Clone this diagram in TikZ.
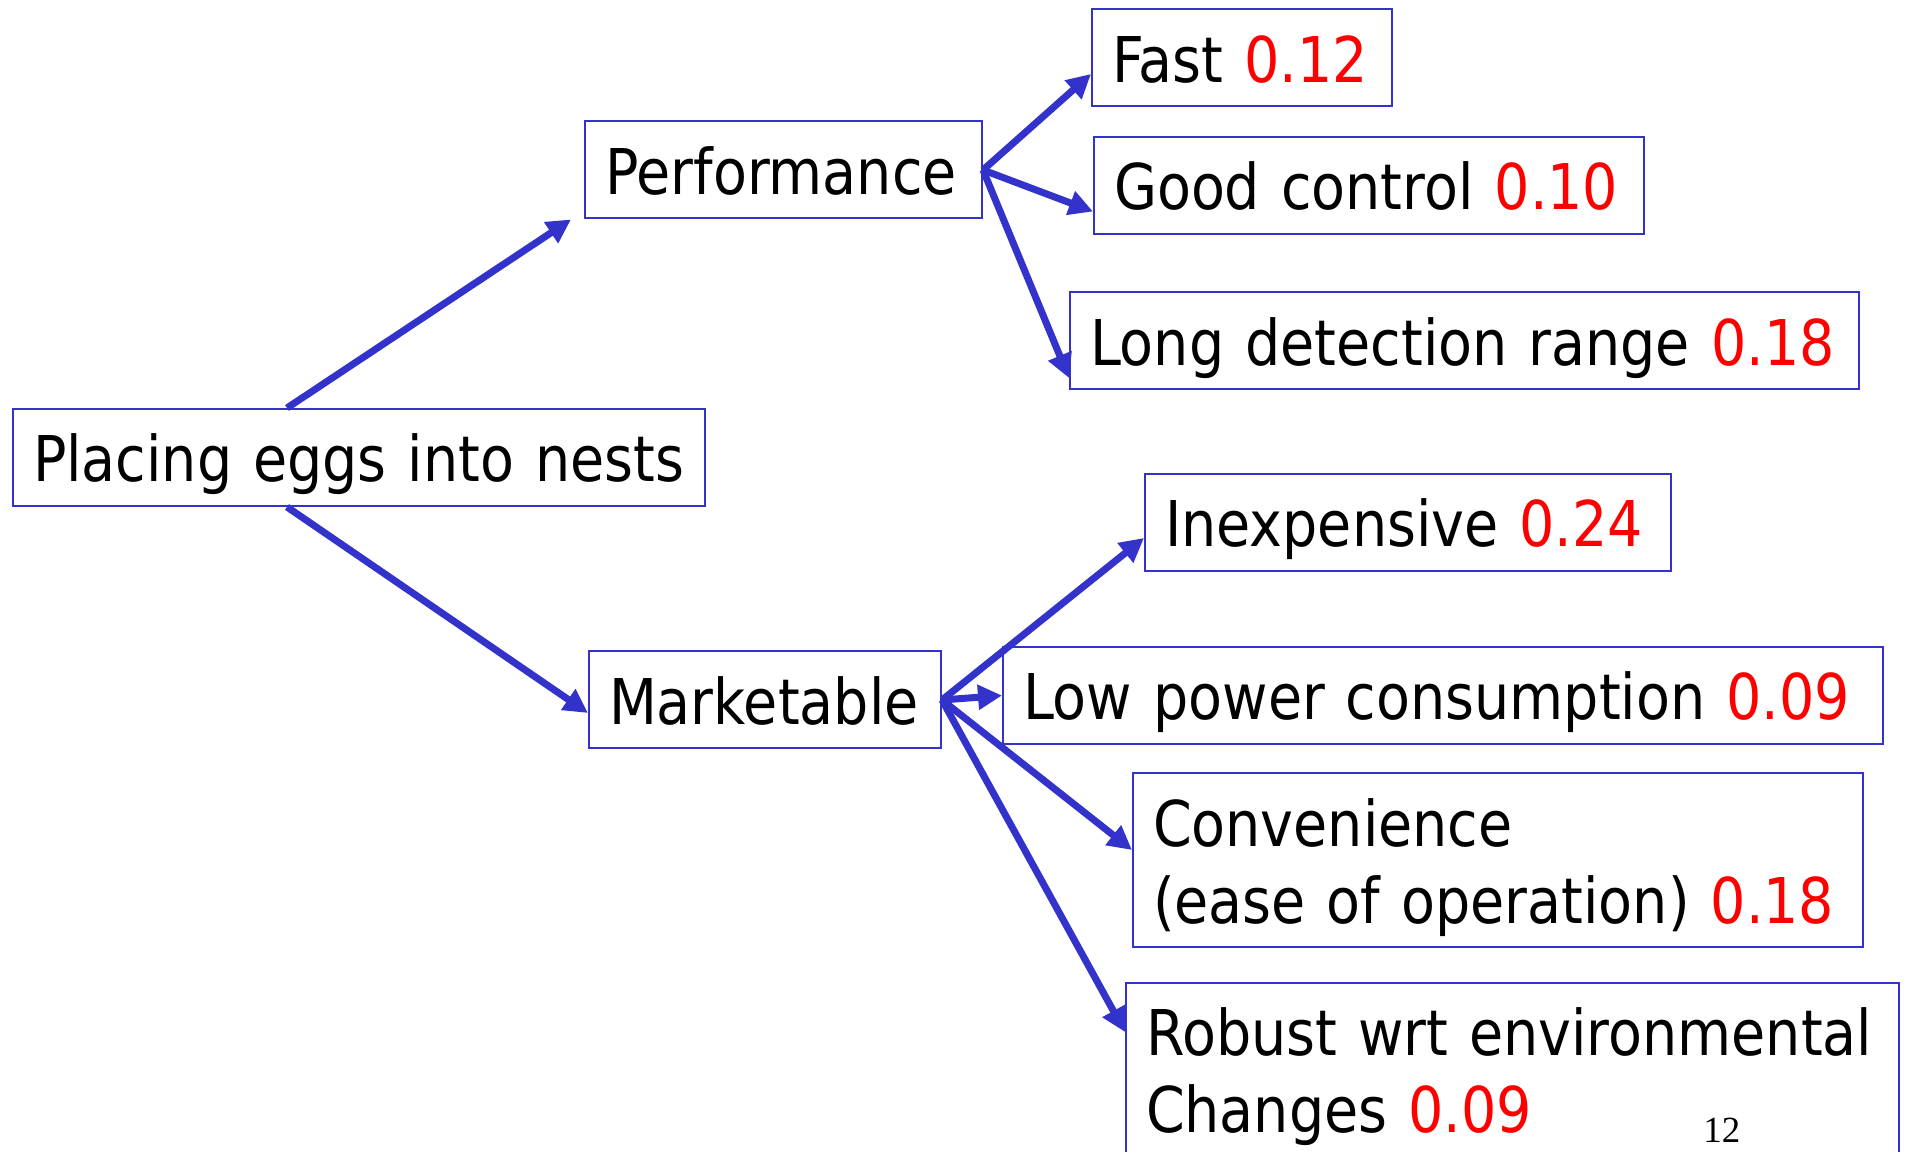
\documentclass[tikz,border=0pt]{standalone}
\usepackage{xcolor}
\usepackage{fontspec}
\setmainfont[FakeStretch=0.88]{DejaVu Sans}
\newfontfamily\slidenumfont{Liberation Serif}
\usepackage{tikz}
\usetikzlibrary{arrows.meta}

\definecolor{boxblue}{RGB}{51,51,204}
\newcommand{\score}[1]{\textcolor{red}{#1}}

\tikzset{
  crit/.style={draw=boxblue, line width=0.04cm, inner xsep=0.4cm, inner ysep=0pt,
    text height=1.46cm, text depth=0.48cm, align=left,
    font=\fontsize{35.9}{43.8}\selectfont},
  twolines/.style={text depth=2.02cm},
  branch/.style={draw=boxblue, line width=0.14cm, -{Triangle[length=0.48cm, width=0.48cm]}},
}

\begin{document}
\begin{tikzpicture}
    \useasboundingbox (0,0) rectangle (38.1,23.04);
    \clip (0,0) rectangle (38.1,23.04);

    \node[crit, text width=13.04cm] (goal) at (7.18, 13.89) {Placing eggs into nests};
    \node[crit, text width=7.14cm] (perf) at (15.67, 19.64) {Performance};
    \node[crit, text width=6.24cm] (mkt) at (15.3, 9.04) {Marketable};

    % performance criteria
    \node[crit, text width=5.2cm] (fast) at (24.84, 21.88) {Fast \score{0.12}};
    \node[crit, text width=10.2cm] (good) at (27.38, 19.33) {Good control \score{0.10}};
    \node[crit, text width=14.98cm] (range) at (29.29, 16.22) {Long detection range \score{0.18}};

    % marketability criteria
    \node[crit, text width=9.72cm] (cheap) at (28.16, 12.59) {Inexpensive \score{0.24}};
    \node[crit, text width=16.8cm] (power) at (28.86, 9.13) {Low power consumption \score{0.09}};
    \node[crit, twolines, text width=13.8cm] (ease) at (29.96, 5.83) {Convenience\\(ease of operation) \score{0.18}};
    \node[crit, twolines, text width=14.66cm] (robust) at (30.25, 1.64) {Robust wrt environmental\\Changes \score{0.09}};

    \node[anchor=base west, inner sep=0pt, font=\slidenumfont\fontsize{21}{25}\selectfont] (slidenum) at (34.06, 0.18) {12};

    \draw[branch] ([xshift=-1.44cm]goal.north) -- ([xshift=-0.26cm]perf.south west);
    \draw[branch] ([xshift=-1.44cm]goal.south) -- ([yshift=-0.26cm]mkt.west);

    \draw[branch] (perf.east) -- ([yshift=-0.32cm]fast.west);
    \draw[branch] (perf.east) -- ([yshift=-0.52cm]good.west);
    \draw[branch] (perf.east) -- ([yshift=-0.74cm]range.west);

    \draw[branch] (mkt.east) -- ([yshift=-0.31cm]cheap.west);
    \draw[branch] (mkt.east) -- (power.west);
    \draw[branch] (mkt.east) -- ([yshift=0.21cm]ease.west);
    \draw[branch] (mkt.east) -- ([yshift=0.76cm]robust.west);
\end{tikzpicture}
\end{document}
